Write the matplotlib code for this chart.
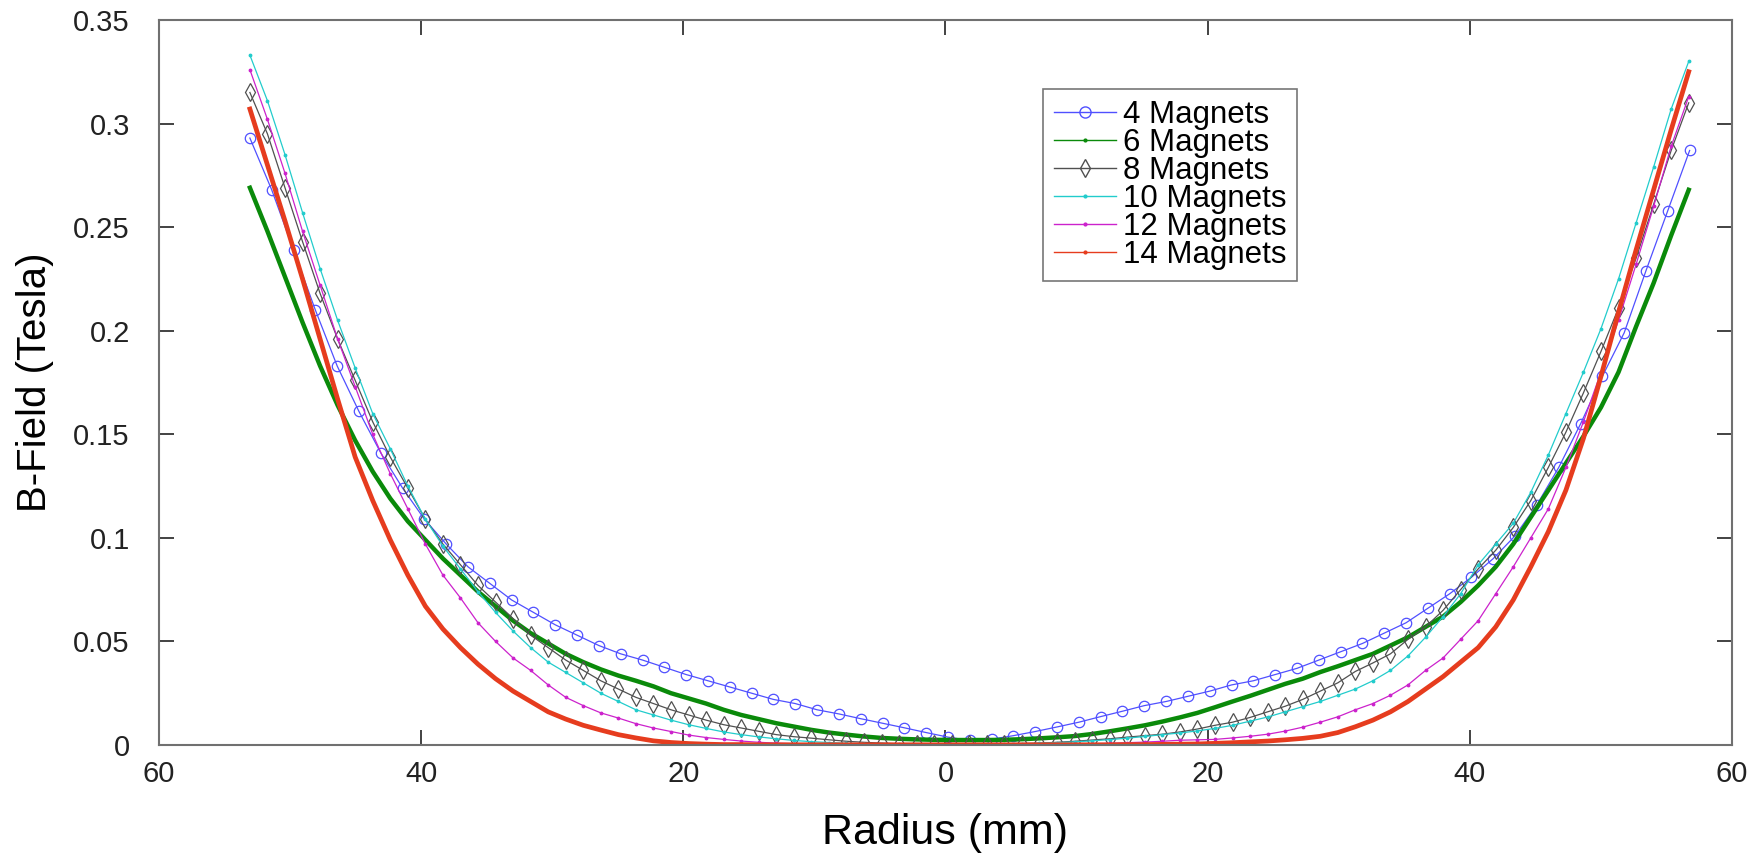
import numpy as np
import matplotlib
matplotlib.use('Agg')
import matplotlib.pyplot as plt
from matplotlib.lines import Line2D
from matplotlib.ticker import FuncFormatter, MultipleLocator

plt.rcParams['font.family'] = ['Liberation Sans', 'DejaVu Sans']

# radius grids (mm); the 4-magnet run was sampled coarser than the others
r_coarse = np.linspace(-53.06, 56.77, 67)
r_fine = np.linspace(-53.06, 56.70, 83)

b4 = [0.293, 0.268, 0.239, 0.210, 0.183, 0.161, 0.141, 0.124, 0.109, 0.097,
      0.086, 0.078, 0.070, 0.064, 0.058, 0.053, 0.048, 0.044, 0.041, 0.0375,
      0.034, 0.031, 0.028, 0.025, 0.022, 0.020, 0.017, 0.0150, 0.0127, 0.0105,
      0.0083, 0.0060, 0.0038, 0.0022, 0.0028, 0.0045, 0.0065, 0.0087, 0.0110, 0.0137,
      0.0163, 0.019, 0.021, 0.0235, 0.026, 0.029, 0.031, 0.034, 0.037, 0.041,
      0.045, 0.049, 0.054, 0.059, 0.066, 0.073, 0.081, 0.090, 0.101, 0.116,
      0.134, 0.155, 0.178, 0.199, 0.229, 0.258, 0.287]

b6 = [0.269, 0.248, 0.226, 0.204, 0.183, 0.164, 0.147, 0.132, 0.119, 0.108,
      0.099, 0.090, 0.082, 0.074, 0.067, 0.060, 0.054, 0.049, 0.044, 0.040,
      0.0365, 0.0335, 0.031, 0.0283, 0.025, 0.0225, 0.020, 0.017, 0.0145, 0.0125,
      0.0105, 0.0089, 0.0073, 0.0060, 0.0050, 0.0041, 0.0034, 0.0030, 0.0027, 0.0025,
      0.0024, 0.0024, 0.0024, 0.0025, 0.0028, 0.0032, 0.0037, 0.0043, 0.0053, 0.0066,
      0.0080, 0.0095, 0.0113, 0.0133, 0.0155, 0.0182, 0.021, 0.0237, 0.0266, 0.0295,
      0.032, 0.0352, 0.038, 0.041, 0.044, 0.048, 0.052, 0.057, 0.062, 0.069,
      0.077, 0.086, 0.097, 0.110, 0.123, 0.136, 0.149, 0.163, 0.180, 0.202,
      0.223, 0.246, 0.268]

b8 = [0.315, 0.295, 0.269, 0.243, 0.218, 0.196, 0.176, 0.156, 0.139, 0.124,
      0.109, 0.097, 0.087, 0.077, 0.069, 0.061, 0.053, 0.047, 0.041, 0.036,
      0.031, 0.027, 0.023, 0.020, 0.017, 0.0145, 0.012, 0.0098, 0.0082, 0.0066,
      0.0050, 0.0040, 0.0033, 0.0025, 0.0018, 0.0013, 0.0009, 0.0006, 0.0004, 0.0003,
      0.0003, 0.0003, 0.0004, 0.0005, 0.0007, 0.0009, 0.0013, 0.0018, 0.0024, 0.0030,
      0.0038, 0.0045, 0.0052, 0.0063, 0.0077, 0.0095, 0.011, 0.0133, 0.016, 0.0187,
      0.022, 0.026, 0.030, 0.0355, 0.0396, 0.044, 0.051, 0.057, 0.065, 0.075,
      0.085, 0.094, 0.105, 0.118, 0.134, 0.151, 0.170, 0.190, 0.211, 0.235,
      0.261, 0.287, 0.310]

b10 = [0.333, 0.311, 0.285, 0.257, 0.230, 0.205, 0.182, 0.160, 0.143, 0.125,
       0.109, 0.096, 0.085, 0.074, 0.064, 0.055, 0.047, 0.040, 0.035, 0.030,
       0.025, 0.021, 0.017, 0.0145, 0.012, 0.0098, 0.0080, 0.0063, 0.0050, 0.0039,
       0.0030, 0.0022, 0.0016, 0.0012, 0.0008, 0.0006, 0.0004, 0.0003, 0.0002, 0.0002,
       0.0002, 0.0002, 0.0003, 0.0004, 0.0006, 0.0008, 0.0011, 0.0015, 0.0020, 0.0026,
       0.0033, 0.0041, 0.0050, 0.0058, 0.0068, 0.0080, 0.0095, 0.0115, 0.0135, 0.016,
       0.0185, 0.021, 0.024, 0.027, 0.031, 0.036, 0.043, 0.052, 0.062, 0.073,
       0.087, 0.097, 0.107, 0.122, 0.140, 0.160, 0.180, 0.201, 0.225, 0.252,
       0.279, 0.307, 0.330]

b12 = [0.326, 0.302, 0.276, 0.248, 0.222, 0.196, 0.173, 0.150, 0.131, 0.114,
       0.097, 0.082, 0.071, 0.059, 0.050, 0.042, 0.036, 0.029, 0.023, 0.019,
       0.0155, 0.013, 0.0103, 0.0082, 0.0065, 0.0048, 0.0036, 0.0027, 0.0019, 0.0013,
       0.0009, 0.0006, 0.0004, 0.0003, 0.0002, 0.0002, 0.0001, 0.0001, 0.0001, 0.0001,
       0.0001, 0.0001, 0.0001, 0.0001, 0.0002, 0.0002, 0.0003, 0.0004, 0.0006, 0.0008,
       0.0011, 0.0014, 0.0018, 0.0023, 0.0025, 0.0027, 0.0034, 0.0042, 0.0052, 0.0067,
       0.0086, 0.011, 0.0136, 0.017, 0.020, 0.024, 0.029, 0.036, 0.042, 0.051,
       0.060, 0.073, 0.086, 0.100, 0.114, 0.134, 0.156, 0.180, 0.205, 0.232,
       0.260, 0.289, 0.313]

b14 = [0.307, 0.280, 0.253, 0.225, 0.196, 0.167, 0.139, 0.118, 0.099, 0.082,
       0.067, 0.056, 0.047, 0.039, 0.032, 0.026, 0.021, 0.016, 0.0125, 0.0095,
       0.0072, 0.0050, 0.0034, 0.0020, 0.0012, 0.0007, 0.0004, 0.0002, 0.0002, 0.0001,
       0.0001, 0.0001, 0.0001, 0.0001, 0.0001, 0.0001, 0.0001, 0.0001, 0.0001, 0.0001,
       0.0001, 0.0001, 0.0001, 0.0001, 0.0001, 0.0001, 0.0001, 0.0001, 0.0001, 0.0001,
       0.0002, 0.0002, 0.0003, 0.0004, 0.0005, 0.0008, 0.0011, 0.0015, 0.0019, 0.0025,
       0.0032, 0.0042, 0.0060, 0.0088, 0.0120, 0.0160, 0.021, 0.027, 0.033, 0.040,
       0.047, 0.057, 0.070, 0.086, 0.103, 0.123, 0.148, 0.178, 0.209, 0.239,
       0.268, 0.297, 0.325]

labels = ['4 Magnets', '6 Magnets', '8 Magnets', '10 Magnets', '12 Magnets', '14 Magnets']
colors = ['#5050ff', '#0a8a0a', '#505050', '#22cccc', '#cc22cc', '#e63c1e']

fig = plt.figure(figsize=(17.58, 8.57), dpi=100)
ax = fig.add_axes([0.0904, 0.1307, 0.8948, 0.846])

ax.plot(r_coarse, b4, color=colors[0], lw=0.9, marker='o', ms=7.5, mfc='none', mew=0.9)
ax.plot(r_fine, b6, color=colors[1], lw=3.2)
ax.plot(r_fine, b8, color=colors[2], lw=0.9, marker='d', ms=9, mfc='none', mew=0.9)
ax.plot(r_fine, b10, color=colors[3], lw=0.9, marker='.', ms=3.5)
ax.plot(r_fine, b12, color=colors[4], lw=0.9, marker='.', ms=3.5)
ax.plot(r_fine, b14, color=colors[5], lw=3.4)

ax.set_xlim(-60, 60)
ax.set_ylim(0, 0.35)
ax.xaxis.set_major_locator(MultipleLocator(20))
ax.yaxis.set_major_locator(MultipleLocator(0.05))
ax.xaxis.set_major_formatter(FuncFormatter(lambda v, p: f"{abs(v):g}"))
ax.yaxis.set_major_formatter(FuncFormatter(lambda v, p: f"{v:g}"))
ax.tick_params(direction='in', length=11, width=1.2, top=True, right=True,
               labelsize=21, colors='#222222')
ax.tick_params(axis='y', pad=21)
ax.tick_params(axis='x', pad=11)
for s in ax.spines.values():
    s.set_color('#707070')
    s.set_linewidth(1.5)

ax.set_xlabel('Radius (mm)', fontsize=31, labelpad=18)
ax.set_ylabel('B-Field (Tesla)', fontsize=29, labelpad=14)

# legend: thin lines with markers, even for the thick curves
handles = [
    Line2D([], [], color=colors[0], lw=1, marker='o', ms=8, mfc='none'),
    Line2D([], [], color=colors[1], lw=1, marker='.', ms=4),
    Line2D([], [], color=colors[2], lw=1, marker='d', ms=9, mfc='none'),
    Line2D([], [], color=colors[3], lw=1, marker='.', ms=4),
    Line2D([], [], color=colors[4], lw=1, marker='.', ms=4),
    Line2D([], [], color=colors[5], lw=1, marker='.', ms=4),
]
leg = ax.legend(handles, labels, loc='upper left', bbox_to_anchor=(0.562, 0.905),
                fontsize=22.5, frameon=True, fancybox=False, labelspacing=-0.06,
                handlelength=2.0, handletextpad=0.2, borderpad=0.35, borderaxespad=0)
leg.get_frame().set_edgecolor('#555555')
leg.get_frame().set_linewidth(1.2)

fig.savefig('out.png', dpi=100)
